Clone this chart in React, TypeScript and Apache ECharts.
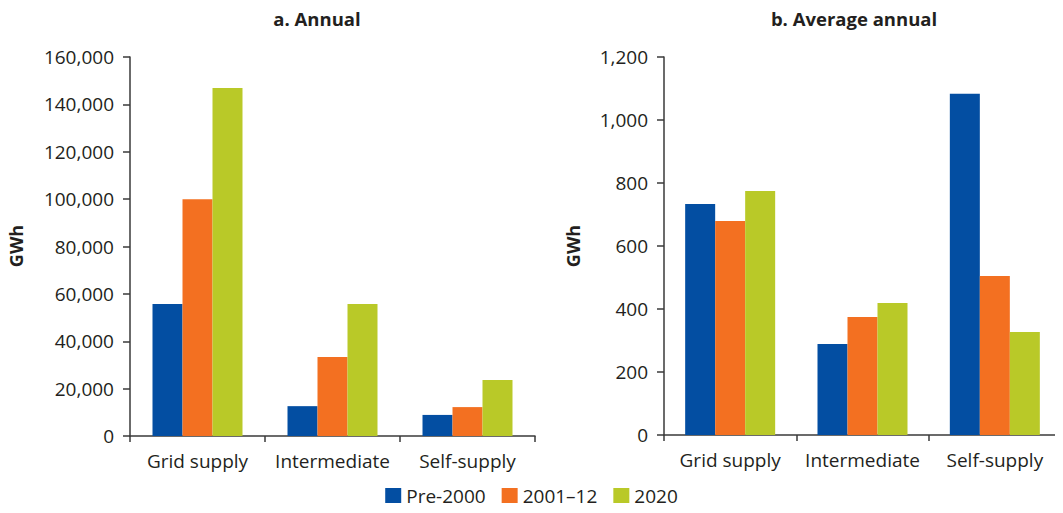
import React, { useEffect, useRef } from "react";
import * as echarts from "echarts";

const categories = ["Grid supply", "Intermediate", "Self-supply"];
const seriesNames = ["Pre-2000", "2001–12", "2020"];
const annualPre2000 = [55700, 12600, 8900];
const annual2001_12 = [100000, 33300, 12200];
const annual2020 = [146900, 55700, 23600];
const avgPre2000 = [733, 289, 1083];
const avg2001_12 = [679, 375, 505];
const avg2020 = [775, 419, 327];
const colors = ["#034ea2", "#f37021", "#b9c928"];

const FONT = "'Open Sans', 'Noto Sans', sans-serif";
const TXT = "#231f20";

export default function App() {
  const ref = useRef<HTMLDivElement>(null);
  useEffect(() => {
    const chart = echarts.init(ref.current!, null, { renderer: "svg" });
    const fmt = (v: number) => v.toLocaleString("en-US");
    const yAxisCommon = {
      type: "value",
      min: 0,
      axisLine: { show: true, lineStyle: { color: "#3a3a3a", width: 1.5 } },
      axisTick: { show: true, length: 7, lineStyle: { color: "#3a3a3a", width: 1.5 } },
      splitLine: { show: false },
      axisLabel: { color: TXT, fontSize: 19, fontFamily: FONT, margin: 16, formatter: fmt },
    };
    const xAxisCommon = {
      type: "category",
      data: categories,
      axisLine: { show: true, lineStyle: { color: "#3a3a3a", width: 1.5 } },
      axisTick: { show: true, length: 6, lineStyle: { color: "#3a3a3a", width: 1.5 } },
      axisLabel: { color: TXT, fontSize: 19, fontFamily: FONT, margin: 15, interval: 0 },
    };
    const mk = (name: string, data: number[], i: number, axis: number) => ({
      type: "bar",
      name,
      xAxisIndex: axis,
      yAxisIndex: axis,
      data,
      barWidth: 30,
      barGap: "0%",
      itemStyle: { color: colors[i] },
    });
    chart.setOption({
      animation: false,
      textStyle: { fontFamily: FONT },
      title: [
        {
          text: "a. Annual",
          left: 312,
          top: 4,
          textAlign: "center",
          textStyle: { fontSize: 18.5, fontWeight: "bold", color: TXT, fontFamily: FONT },
        },
        {
          text: "b. Average annual",
          left: 849,
          top: 4,
          textAlign: "center",
          textStyle: { fontSize: 18.5, fontWeight: "bold", color: TXT, fontFamily: FONT },
        },
      ],
      graphic: [
        {
          type: "text",
          x: 16,
          y: 246,
          rotation: Math.PI / 2,
          style: {
            text: "GWh",
            fill: TXT,
            font: `bold 18px ${FONT}`,
            align: "center",
            verticalAlign: "middle",
          },
        },
        {
          type: "text",
          x: 573,
          y: 246,
          rotation: Math.PI / 2,
          style: {
            text: "GWh",
            fill: TXT,
            font: `bold 18px ${FONT}`,
            align: "center",
            verticalAlign: "middle",
          },
        },
      ],
      legend: {
        data: seriesNames,
        bottom: 3,
        left: "center",
        itemWidth: 16,
        itemHeight: 15,
        itemGap: 16,
        icon: "rect",
        textStyle: { fontSize: 19, color: TXT, fontFamily: FONT, padding: [0, 0, 0, 0] },
      },
      grid: [
        { left: 130, right: 528, top: 57, bottom: 77 },
        { left: 664, right: 2, top: 57, bottom: 78 },
      ],
      xAxis: [
        { ...xAxisCommon, gridIndex: 0 },
        { ...xAxisCommon, gridIndex: 1 },
      ],
      yAxis: [
        { ...yAxisCommon, gridIndex: 0, max: 160000, interval: 20000 },
        { ...yAxisCommon, gridIndex: 1, max: 1200, interval: 200 },
      ],
      series: [
        mk(seriesNames[0], annualPre2000, 0, 0),
        mk(seriesNames[1], annual2001_12, 1, 0),
        mk(seriesNames[2], annual2020, 2, 0),
        mk(seriesNames[0], avgPre2000, 0, 1),
        mk(seriesNames[1], avg2001_12, 1, 1),
        mk(seriesNames[2], avg2020, 2, 1),
      ],
    });
    return () => chart.dispose();
  }, []);
  return <div ref={ref} style={{ width: 1063, height: 513, margin: -8 }} />;
}
